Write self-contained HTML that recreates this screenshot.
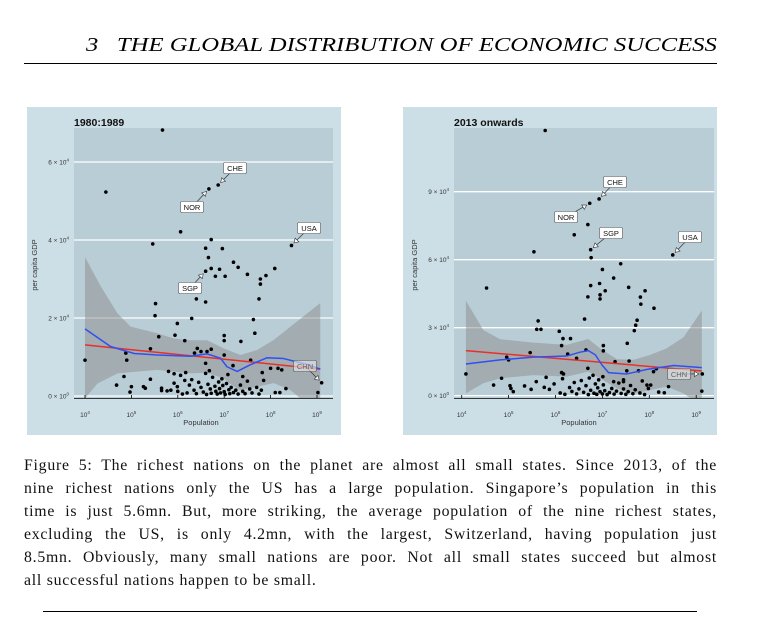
<!DOCTYPE html>
<html><head><meta charset="utf-8"><style>
body{margin:0;background:#fff;width:761px;height:638px;overflow:hidden;position:relative;font-family:"Liberation Serif",serif}
.hdr{position:absolute;left:86px;top:34px;font-style:italic;font-size:20.5px;white-space:nowrap;transform-origin:0 0;transform:scaleX(1.205)}
.rule{position:absolute;height:1px;background:#000}
.cap{position:absolute;left:24px;top:454px;width:693px;font-size:15.8px;letter-spacing:0.75px;line-height:23.1px;color:#111}
.cap div{text-align:justify;text-align-last:justify;white-space:nowrap}
.cap div.last{text-align-last:left}
svg{position:absolute;left:0;top:0}
</style></head><body>
<div class="hdr">3&nbsp;&nbsp;&nbsp;THE GLOBAL DISTRIBUTION OF ECONOMIC SUCCESS</div>
<div class="rule" style="left:24px;top:63px;width:693px"></div>
<div class="cap">
<div>Figure 5: The richest nations on the planet are almost all small states. Since 2013, of the</div>
<div>nine richest nations only the US has a large population. Singapore’s population in this</div>
<div>time is just 5.6mn. But, more striking, the average population of the nine richest states,</div>
<div>excluding the US, is only 4.2mn, with the largest, Switzerland, having population just</div>
<div>8.5mn. Obviously, many small nations are poor. Not all small states succeed but almost</div>
<div class="last">all successful nations happen to be small.</div>
</div>
<div class="rule" style="left:43px;top:611px;width:654px"></div>
<svg id="s" width="761" height="638" xmlns="http://www.w3.org/2000/svg"></svg>
<script>
// Chart 1 (1980:1989): [log10 population, GDP per capita in thousands]
const pts1 = [[4.0,9.2],[4.45,52.3],[5.67,68.2],[6.06,42.1],[5.46,39],[5.52,23.7],[5.51,20.6],[5.59,15.2],[5.41,12.1],[4.88,11],[4.9,9.2],[4.84,5],[4.68,2.8],[4.97,1],[5.0,2.4],[5.26,2.4],[5.3,2],[5.41,4.3],[5.65,2],[5.65,1.4],[5.77,1.3],[5.85,1.5],[5.8,6.3],[5.94,15.6],[5.99,18.6],[5.92,5.7],[5.92,3.3],[5.99,2.4],[6.06,5.3],[6.15,14.2],[6.17,6],[6.3,19.9],[6.4,24.9],[6.42,12.2],[6.36,11],[6.5,11.4],[6.63,11.4],[6.6,37.9],[6.72,40.1],[6.66,35.5],[6.6,32],[6.6,24.1],[6.72,32.7],[6.67,53.1],[6.87,54.1],[6.96,37.8],[6.9,32.5],[6.81,30.7],[7.02,30.7],[7.2,34.3],[7.3,33],[7.5,31.2],[7.9,30.9],[8.09,32.7],[7.78,30],[7.78,28.7],[7.75,24.9],[7.63,19.6],[7.66,16.1],[7.36,14],[7.0,15.5],[7.0,14.2],[6.6,8.4],[6.72,12],[7.0,10.5],[7.19,7.8],[7.57,9.2],[8.0,7.1],[8.16,7.1],[8.24,6.7],[7.82,6],[8.45,38.6],[9.02,0.9],[9.1,3.4],[8.33,1.9],[8.2,0.9],[8.1,0.9],
[6.0,1.2],[6.1,0.5],[6.2,0.8],[6.25,2.8],[6.3,4.2],[6.35,1.5],[6.4,0.6],[6.45,3.5],[6.5,2.2],[6.55,1.0],[6.6,5.8],[6.62,0.4],[6.65,3.0],[6.7,1.8],[6.72,0.7],[6.75,4.8],[6.8,2.5],[6.82,1.2],[6.85,0.5],[6.88,3.6],[6.9,1.9],[6.92,0.8],[6.95,4.4],[6.97,2.7],[7.0,1.1],[7.02,0.4],[7.05,3.2],[7.1,1.6],[7.12,0.6],[7.15,2.2],[7.2,0.9],[7.25,1.5],[7.3,0.5],[7.35,2.8],[7.4,1.2],[7.45,0.6],[7.5,3.8],[7.55,1.8],[7.6,0.8],[7.7,2.2],[7.75,0.5],[7.8,1.5],[7.85,4.0],[6.15,4.0],[6.68,6.5],[7.08,5.5],[7.4,5.0]];
const loess1 = [[4.0,17.2],[4.55,12.7],[5.06,10.9],[5.56,10.5],[6.27,10.2],[6.63,10.8],[6.92,9.7],[7.06,7.5],[7.28,6.3],[7.56,8],[7.92,9.8],[8.28,9.6],[8.78,8.1],[9.07,6.9]];
const linear1 = [[4.0,13.1],[9.07,6.9]];
const upper1 = [[4,35.6],[4.34,28.1],[4.7,21.2],[4.98,17.8],[5.56,16.1],[5.92,14.7],[6.27,14.3],[6.63,14.3],[6.99,12.2],[7.35,10.5],[7.71,11.8],[8.07,14.4],[8.43,17.8],[8.79,21.2],[9.07,23.8]];
const lower1 = [[4,-0.6],[4.27,3.2],[4.7,5.8],[5.56,6.7],[6.27,5.8],[6.63,6],[6.99,4.5],[7.21,2.4],[7.35,1.5],[7.71,2.4],[8.07,3.3],[8.43,1.5],[8.64,-0.6],[9.07,-3]];
const yTicks1 = [0,20,40,60];
const yLabels1 = ["0","2","4","6"];
const yExp1 = ["0","4","4","4"];
const labels1 = [["CHE",6.87,54.1],["NOR",6.67,53.1],["USA",8.45,38.6],["SGP",6.6,32],["CHN",9.1,3.4]];

// Chart 2 (2013 onwards)
const pts2 = [[4.09,9.6],[4.53,47.5],[5.78,117],[5.54,63.5],[5.63,33],[5.6,29.3],[5.69,29.3],[5.46,19],[5.0,15.8],[4.96,17],[4.85,7.7],[4.68,4.7],[5.03,4.4],[5.1,1.8],[5.05,3.2],[5.34,4.3],[5.48,2.8],[5.59,6.2],[5.8,8.1],[5.76,3.7],[5.87,2.8],[5.97,5.2],[6.08,28.4],[6.13,22.1],[6.16,25.2],[6.13,10.2],[6.17,9.6],[6.32,25.2],[6.26,18.4],[6.4,71],[6.62,33.8],[6.65,20.2],[6.69,43.6],[6.69,75.5],[6.73,84.9],[6.75,64.4],[6.76,60.9],[6.75,48.6],[6.93,86.8],[6.94,49.5],[6.95,44.5],[6.95,42.7],[7.0,55.7],[7.06,46.3],[7.02,22.1],[7.02,19.8],[7.24,51.9],[7.39,58.2],[7.56,47.8],[7.53,23.1],[7.57,15.3],[7.74,33.3],[7.71,31.1],[7.68,28.7],[7.81,43.5],[7.82,40.4],[7.91,46.3],[8.1,38.6],[7.27,15],[7.52,11],[7.77,11],[8.09,10.6],[8.15,11.9],[8.5,62.1],[9.13,9.6],[9.12,2],[8.41,4],[8.32,1.3],[8.2,1.6],[8.03,4.7],[7.95,4.7],[7.98,3.2],[6.69,12.1],[6.45,16.5],[7.01,8.4],[7.24,6.2],[7.45,6.2],
[6.1,1.2],[6.2,0.6],[6.3,3.6],[6.35,1.9],[6.4,5.8],[6.45,0.8],[6.5,3.0],[6.55,6.7],[6.6,1.5],[6.65,4.4],[6.7,0.5],[6.72,7.8],[6.75,2.4],[6.8,9.0],[6.82,1.1],[6.85,5.2],[6.88,0.6],[6.9,3.5],[6.92,7.0],[6.95,1.8],[7.0,0.8],[7.02,4.8],[7.05,2.2],[7.1,0.5],[7.15,1.4],[7.2,3.2],[7.25,0.7],[7.3,2.0],[7.35,5.6],[7.4,1.0],[7.45,3.0],[7.5,0.6],[7.55,1.8],[7.6,4.5],[7.65,0.9],[7.7,2.6],[7.8,1.2],[7.85,6.5],[7.9,0.5],[6.15,7.5],[7.45,7.0]];
const loess2 = [[4.09,14],[4.82,15.8],[5.53,17],[6.24,17.5],[6.52,19.2],[6.7,19.9],[6.85,18],[6.99,13.6],[7.13,10.2],[7.52,9.6],[7.95,11.6],[8.52,13.3],[9.12,12.4]];
const linear2 = [[4.09,19.9],[9.12,10.9]];
const upper2 = [[4.09,41.9],[4.46,29],[4.82,24.9],[5.53,23.4],[6.24,22.4],[6.7,25],[6.95,20.9],[7.31,16.1],[7.66,15.8],[8.02,18],[8.37,20.9],[8.73,25.8],[9.12,37.6]];
const lower2 = [[4.09,1],[4.46,5.5],[4.82,7.7],[5.53,9.1],[6.24,8.4],[6.7,10.6],[6.95,7.7],[7.31,3.2],[7.66,1],[8.02,2.5],[8.37,4],[8.73,1],[8.87,-1],[9.12,-3]];
const yTicks2 = [0,30,60,90];
const yLabels2 = ["0","3","6","9"];
const yExp2 = ["0","4","4","4"];
const labels2 = [["CHE",6.93,86.8],["NOR",6.73,84.9],["SGP",6.75,64.4],["USA",8.5,62.1],["CHN",9.13,9.6]];
const xTicks = [4,5,6,7,8,9];

const NS="http://www.w3.org/2000/svg";
const svg=document.getElementById('s');
function mk(tag,attrs,parent){const e=document.createElementNS(NS,tag);for(const k in attrs)e.setAttribute(k,attrs[k]);(parent||svg).appendChild(e);return e;}

function chart(cfg){
  const g=mk('g',{});
  
  
  const X=v=>cfg.x0+(v-4)*cfg.dx;
  const Y=v=>cfg.y0-v*cfg.dy;
  const panel=mk('rect',{x:cfg.px,y:107,width:314,height:328,fill:'#cddfe6'},g);
  
  
  const plot=mk('rect',{x:cfg.l,y:128,width:cfg.r-cfg.l,height:270,fill:'#b9cdd7'},g);
  
  
  const clipId='c'+cfg.px;
  const cp=mk('clipPath',{id:clipId},g);mk('rect',{x:cfg.l,y:128,width:cfg.r-cfg.l,height:270},cp);
  const inner=mk('g',{'clip-path':'url(#'+clipId+')'},g);
  cfg.yTicks.forEach((t,i)=>{
    const ln=mk('line',{x1:cfg.l,x2:cfg.r,y1:Y(t),y2:Y(t),stroke:'#fff','stroke-width':1.3},inner);
    
    
    const tx=mk('text',{x:cfg.l-5,y:Y(t)+2.5,'font-size':'6.5','text-anchor':'end','font-family':'Liberation Sans, sans-serif',fill:'#333'},g);
    
    
    tx.textContent=cfg.yLabels[i]+' × 10';
    const sp=mk('tspan',{dy:'-3','font-size':'4.5'},tx);sp.textContent=cfg.yExp[i];
  });
  let d='M'+cfg.upper.map(p=>X(p[0])+','+Y(p[1])).join('L');
  d+='L'+cfg.lower.slice().reverse().map(p=>X(p[0])+','+Y(p[1])).join('L')+'Z';
  const band=mk('path',{d:d,fill:'rgba(140,140,140,0.5)'},inner);
  
  
  cfg.pts.forEach(p=>{
    const c=mk('circle',{cx:X(p[0]),cy:Y(p[1]),r:1.8,fill:'#000'},inner);
    
    
  });
  const line=(arr,col,nm)=>{
    const pl=mk('polyline',{points:arr.map(p=>X(p[0])+','+Y(p[1])).join(' '),fill:'none',stroke:col,'stroke-width':1.5,'stroke-linejoin':'round'},inner);
    
    
  };
  line(cfg.linear,'#e8302a','linear-fit-line');
  line(cfg.loess,'#3050f0','loess-fit-line');
  const ax=mk('line',{x1:cfg.l,x2:cfg.r,y1:398.5,y2:398.5,stroke:'#000','stroke-width':0.8},g);
  
  
  xTicks.forEach(t=>{
    mk('line',{x1:X(t),x2:X(t),y1:395,y2:398,stroke:'#000','stroke-width':0.8},g);
    const tx=mk('text',{x:X(t),y:417,'font-size':'6.5','text-anchor':'middle','font-family':'Liberation Sans, sans-serif',fill:'#333'},g);
    
    
    tx.textContent='10';
    const sp=mk('tspan',{dy:'-3','font-size':'4.5'},tx);sp.textContent=String(t);
  });
  const xt=mk('text',{x:(X(4)+X(9))/2,y:425,'font-size':'7.5','text-anchor':'middle','font-family':'Liberation Sans, sans-serif',fill:'#333'},g);
  
  
  xt.textContent='Population';
  const yt=mk('text',{x:0,y:0,'font-size':'7.5','text-anchor':'middle','font-family':'Liberation Sans, sans-serif',fill:'#333',transform:'translate('+cfg.ytx+',265) rotate(-90)'},g);
  
  
  yt.textContent='per capita GDP';
  const tt=mk('text',{x:cfg.l,y:126,'font-size':'10.5','font-weight':'bold','font-family':'Liberation Sans, sans-serif',fill:'#111'},g);
  
  
  tt.textContent=cfg.title;
  cfg.labels.forEach((lb,i)=>{
    const bx=cfg.boxes[i][0],by=cfg.boxes[i][1];
    const px=X(lb[1]),py=Y(lb[2]);
    const grey=lb[0]==='CHN';
    const ang=Math.atan2(py-by,px-bx);
    const tx2=px-3.5*Math.cos(ang),ty2=py-3.5*Math.sin(ang);
    mk('line',{x1:bx,y1:by,x2:tx2,y2:ty2,stroke:'#333','stroke-width':0.7},g);
    const a1=ang+2.6,a2=ang-2.6;
    mk('polygon',{points:tx2+','+ty2+' '+(tx2+5*Math.cos(a1))+','+(ty2+5*Math.sin(a1))+' '+(tx2+5*Math.cos(a2))+','+(ty2+5*Math.sin(a2)),fill:'#fff',stroke:'#333','stroke-width':0.6},g);
    const r=mk('rect',{x:bx-11.5,y:by-5.5,width:23,height:11,rx:1.5,fill:grey?'rgba(235,235,235,0.6)':'#fff',stroke:'#555','stroke-width':0.6},g);
    
    
    const t=mk('text',{x:bx,y:by+3,'font-size':'7.5','text-anchor':'middle','font-family':'Liberation Sans, sans-serif',fill:grey?'#666':'#111'},g);
    
    
    t.textContent=lb[0];
  });
}
chart({name:'chart-1980s',px:27,l:74,r:333,x0:85,dx:46.4,y0:396,dy:78/20,yTicks:yTicks1,yLabels:yLabels1,yExp:yExp1,pts:pts1,loess:loess1,linear:linear1,upper:upper1,lower:lower1,title:'1980:1989',ytx:37,labels:labels1,
  boxes:[[235,168],[192,207],[309,228],[190,288],[305,366]]});
chart({name:'chart-2013-onwards',px:403,l:454,r:714,x0:461.7,dx:46.9,y0:395.7,dy:68/30,yTicks:yTicks2,yLabels:yLabels2,yExp:yExp2,pts:pts2,loess:loess2,linear:linear2,upper:upper2,lower:lower2,title:'2013 onwards',ytx:417,labels:labels2,
  boxes:[[615,182],[566,217],[611,233],[690,237],[679,374]]});
</script>
</body></html>
